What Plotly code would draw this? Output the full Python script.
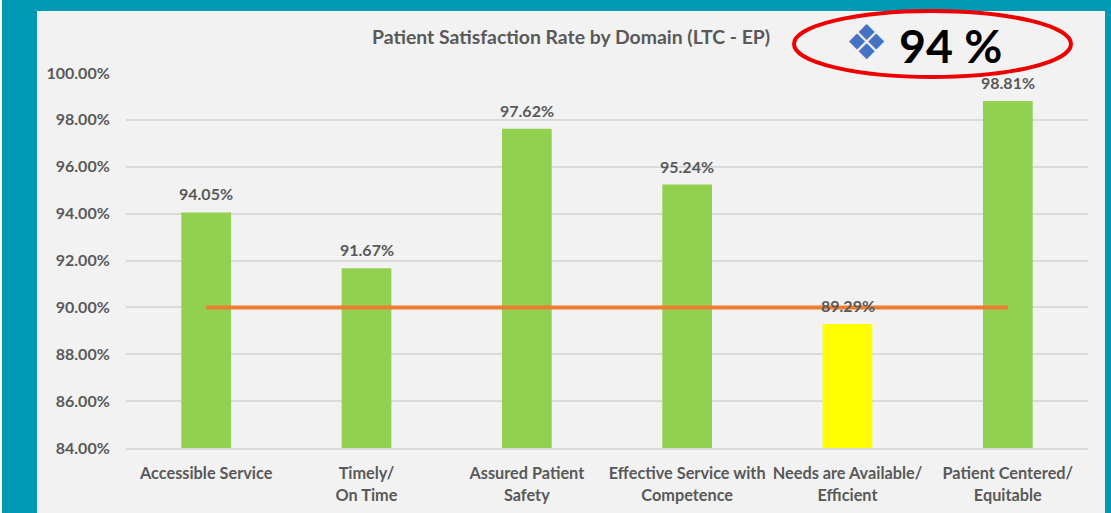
import plotly.graph_objects as go

categories = ["Accessible Service", "Timely/<br>On Time", "Assured Patient<br>Safety",
              "Effective Service with<br>Competence", "Needs are Available/<br>Efficient",
              "Patient Centered/<br>Equitable"]
values = [94.05, 91.67, 97.62, 95.24, 89.29, 98.81]
bar_colors = ["#92D050", "#92D050", "#92D050", "#92D050", "#FFFF00", "#92D050"]
target = [90, 90, 90, 90, 90, 90]
title = "Patient Satisfaction Rate by Domain (LTC - EP)"
callout = "94 %"
W, H = 1111, 513
L, R, T, B = 126, 1088, 73, 448
FONT = "Lato"
GREY = "#595959"

def px(x): return (x - L) / (R - L)
def py(y): return (B - y) / (B - T)

fig = go.Figure()
fig.add_trace(go.Bar(x=categories, y=values, marker=dict(color=bar_colors, line_width=0), width=0.31))
fig.add_trace(go.Scatter(x=categories, y=target, mode="lines",
                         line=dict(color="#ED7D31", width=4)))

labels = [dict(text=f"{v:.2f}%", x=c, y=v, xref="x", yref="y", yanchor="bottom", yshift=7,
               showarrow=False, font=dict(family=FONT, size=16, color=GREY, weight="bold"))
          for c, v in zip(categories, values)]

def note(text, x, y, family, size, color):
    return dict(text=text, xref="paper", yref="paper", x=px(x), y=py(y), showarrow=False,
                xanchor="center", yanchor="middle",
                font=dict(family=family, size=size, color=color, weight="bold"))

fig.update_layout(
    width=W, height=H, autosize=False, showlegend=False,
    margin=dict(l=L, r=W - R, t=T, b=H - B, autoexpand=False),
    paper_bgcolor="#0099B5", plot_bgcolor="rgba(0,0,0,0)",
    font=dict(family=FONT, color=GREY),
    xaxis=dict(showgrid=False, ticks="outside", ticklen=10, tickcolor="rgba(0,0,0,0)", showline=True,
               linecolor="#DADADA", linewidth=1.5, type="category",
               tickfont=dict(family=FONT, size=16.3, color=GREY, weight="bold")),
    yaxis=dict(range=[84, 100], dtick=2, ticksuffix="%",
               tickformat=".2f", gridcolor="#DADADA", gridwidth=1.5, zeroline=False,
               showline=False, ticks="outside", ticklen=12, tickcolor="rgba(0,0,0,0)",
               tickfont=dict(family=FONT, size=16, color=GREY, weight="bold")),
    shapes=[
        dict(type="rect", xref="paper", yref="paper", x0=px(37), x1=px(1105), y0=py(H), y1=py(11),
             fillcolor="#F2F2F2", line_width=0, layer="below"),
        dict(type="rect", xref="paper", yref="paper", x0=px(0), x1=px(2), y0=py(H), y1=py(0),
             fillcolor="#FFFFFF", line_width=0, layer="below"),
        dict(type="circle", xref="paper", yref="paper", x0=px(794), x1=px(1071), y0=py(77), y1=py(11),
             line=dict(color="#EE0000", width=4), fillcolor="rgba(0,0,0,0)", layer="above"),
    ],
    annotations=labels + [
        note(title, 571, 37, FONT, 19.4, GREY),
        note(callout, 950, 45, FONT, 46.5, "#000000"),
        note("\u2756", 866, 42, "DejaVu Sans", 48, "#4472C4"),
    ],
)
fig.write_html("out.html", config=dict(displayModeBar=False),
               post_script="document.body.style.margin='0';")
